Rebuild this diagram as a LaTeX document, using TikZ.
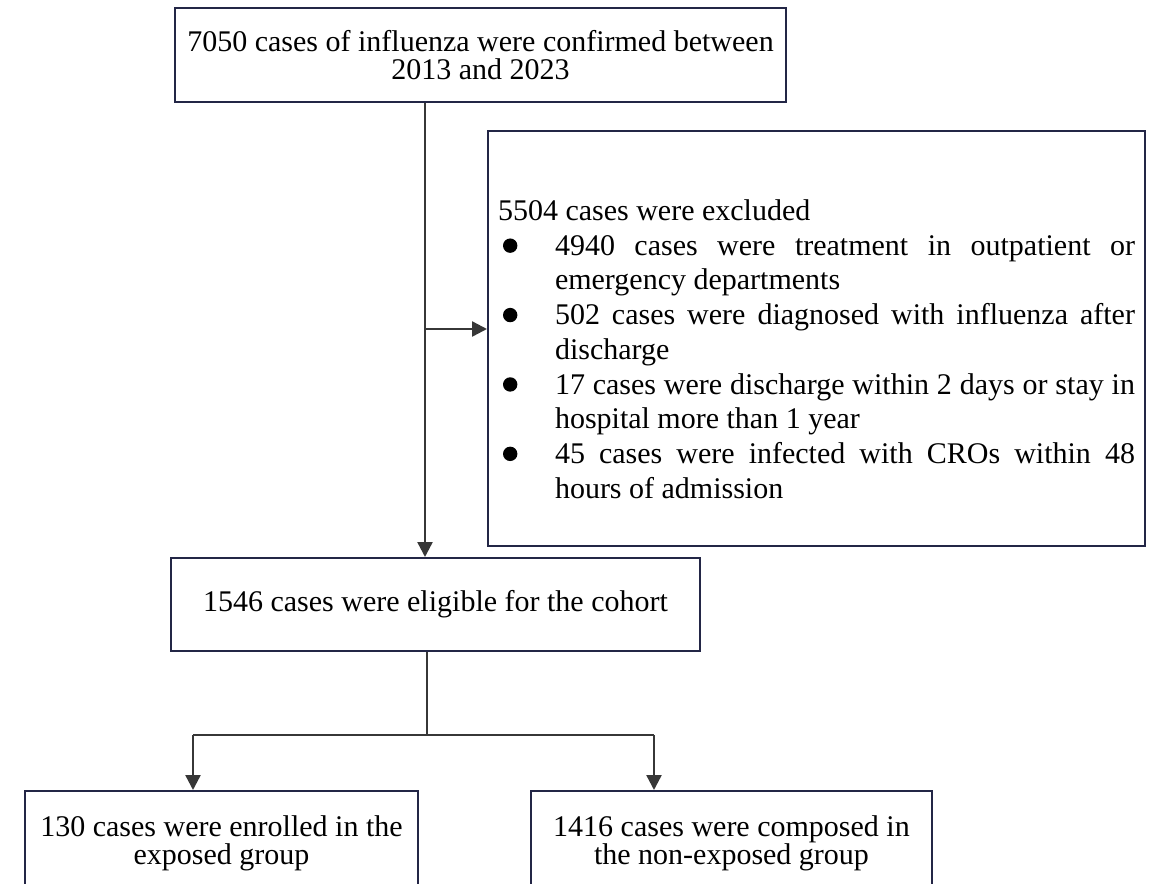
\documentclass[tikz,border=0pt]{standalone}
\usepackage{fontspec}
\setmainfont{Liberation Serif}
\usetikzlibrary{arrows.meta}
\definecolor{boxline}{RGB}{35,38,70}
\definecolor{arrline}{RGB}{55,55,55}
\newcommand{\exitem}[1]{\par\noindent\hangindent=28.5pt\hangafter=1%
  \makebox[28.5pt][l]{\hspace{2.5pt}\tikz[baseline={(0pt,-4.8pt)}]\fill (0pt,0pt) circle (3.6pt);}#1\par}
\begin{document}
\begin{tikzpicture}[x=0.5pt, y=-0.5pt]
  \tikzstyle{box}=[draw=boxline, line width=1pt, inner sep=0pt, align=center,
                   font={\fontsize{15pt}{14pt}\selectfont}]
  \tikzstyle{arr}=[draw=arrline, line width=1.2pt, -{Triangle[length=7.5pt,width=7.5pt]}]
  \tikzstyle{line}=[draw=arrline, line width=1.2pt]
  \useasboundingbox (0,0) rectangle (1152,884);
  \clip (0,0) rectangle (1152,884);
%  \draw[help lines] (0,0) grid (1152,884);
  \node[box, minimum width=305.5pt, minimum height=47pt] (cases) at (480.5,55)
    {7050 cases of influenza were confirmed between\\2013 and 2023};
  \node[box, minimum width=328.5pt, minimum height=207.5pt, inner xsep=5pt,
        text width=318.5pt, align=justify,
        font={\fontsize{15pt}{17.35pt}\selectfont}] (excl) at (816.5,338.5)
    {\rule{0pt}{21pt}5504 cases were excluded
     \exitem{4940 cases were treatment in outpatient or\linebreak emergency departments}
     \exitem{502 cases were diagnosed with influenza after\linebreak discharge}
     \exitem{17 cases were discharge within 2 days or stay in\linebreak hospital more than 1 year}
     \exitem{45 cases were infected with CROs within 48\linebreak hours of admission}};
  \node[box, minimum width=264.5pt, minimum height=46.5pt] (elig) at (435.5,604.5)
    {1546 cases were eligible for the cohort};
  \node[box, minimum width=196.5pt, minimum height=52pt] (exposed) at (221.5,843)
    {130 cases were enrolled in the\\exposed group};
  \node[box, minimum width=200.5pt, minimum height=52pt] (nonexp) at (731.5,843)
    {1416 cases were composed in\\the non-exposed group};
  % connectors
  \coordinate (split) at (425,329);
  \coordinate (fork) at (427,735);
  \coordinate (forkL) at (193,735);
  \coordinate (forkR) at (654,735);
  \draw[arr] (cases.south -| split) -- (elig.north -| split);
  \draw[arr] (split) -- (split -| excl.west);
  \draw[line] (elig.south -| fork) -- (fork);
  \draw[line] (forkL) -- (forkR);
  \draw[arr] (forkL) -- (forkL |- exposed.north);
  \draw[arr] (forkR) -- (forkR |- nonexp.north);
\end{tikzpicture}
\end{document}
